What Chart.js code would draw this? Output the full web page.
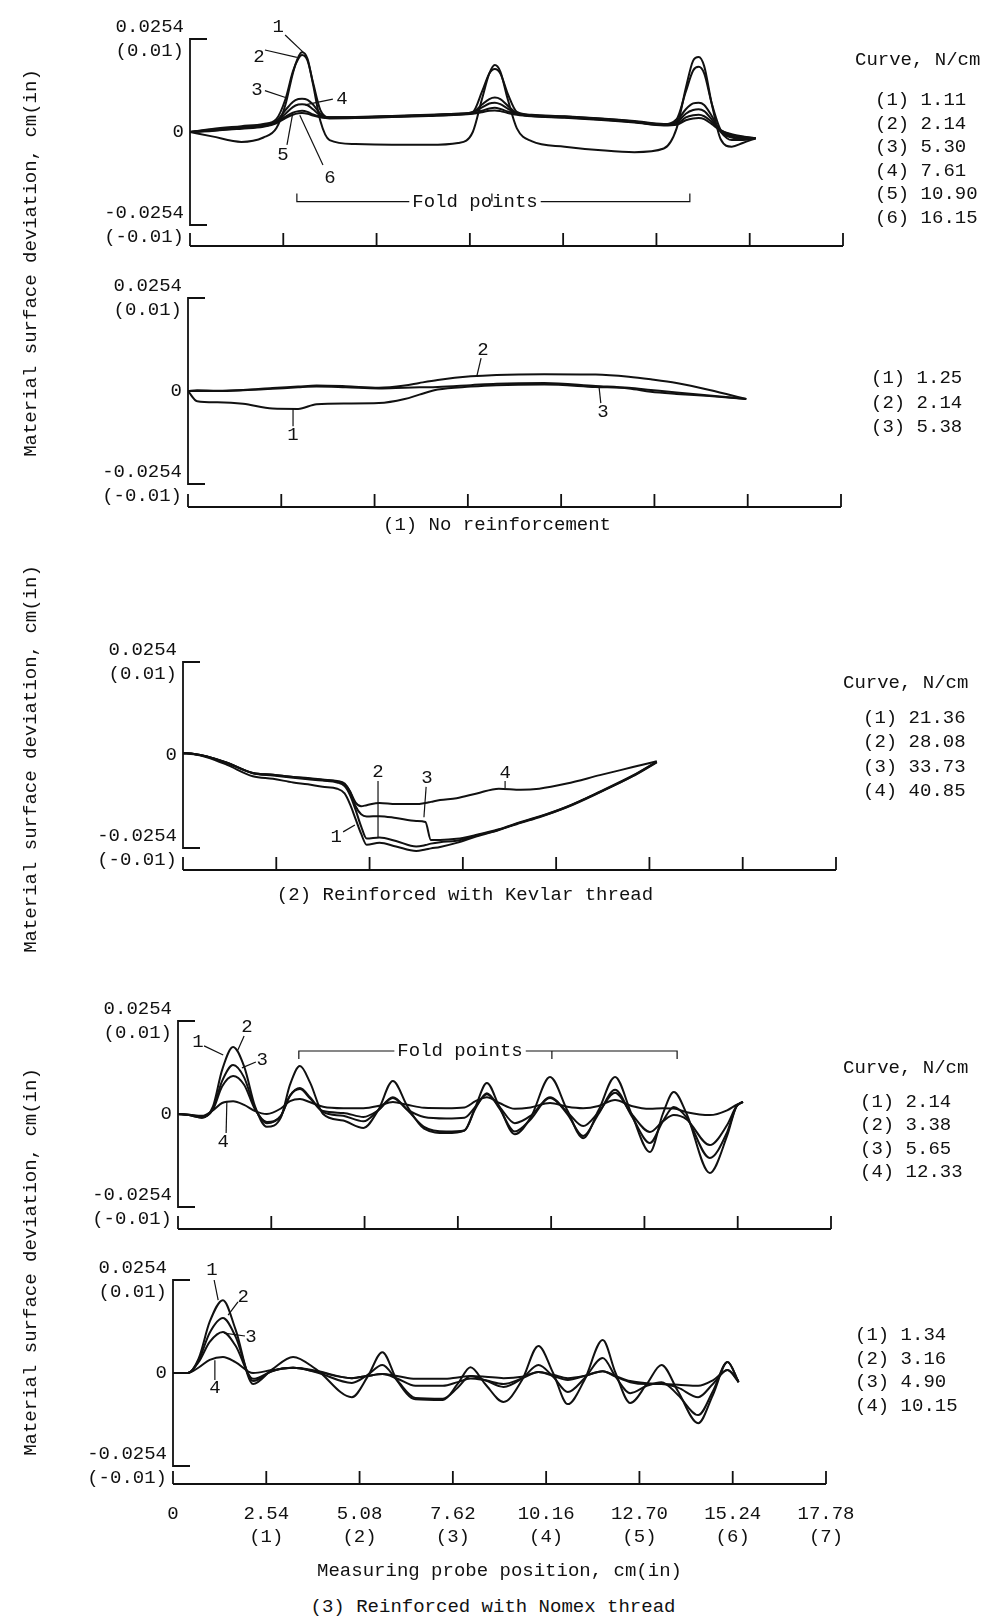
<!DOCTYPE html>
<html>
<head>
<meta charset="utf-8">
<title>Material surface deviation</title>
<script src="https://cdn.jsdelivr.net/npm/chart.js@4.4.1/dist/chart.umd.min.js"></script>
<style>
  html, body { margin: 0; padding: 0; background: #fff; }
  body { position: relative; width: 993px; height: 1619px; overflow: hidden;
         font-family: "Liberation Mono", "DejaVu Sans Mono", monospace; color: #111; }
  canvas { position: absolute; left: 0; }
  .txt { position: absolute; white-space: pre; font-size: 19px; line-height: 1; transform: translateY(-50%); }
  .mid { transform: translate(-50%, -50%); }
  .rot { transform: translate(-50%, -50%) rotate(-90deg); }
</style>
</head>
<body>
<script>
// axes
const xTicks = [0, 2.54, 5.08, 7.62, 10.16, 12.70, 15.24, 17.78];
const xTickInches = ["", "(1)", "(2)", "(3)", "(4)", "(5)", "(6)", "(7)"];
const yTicks = [-0.0254, 0, 0.0254];
const yTickText = [["-0.0254", "(-0.01)"], "0", ["0.0254", "(0.01)"]];

// (1) no reinforcement, upper set
const p1Loads = ["1.11", "2.14", "5.30", "7.61", "10.90", "16.15"];
const p1X = [0, 0.6, 1.4, 2.0, 2.35, 2.6, 2.8, 2.95, 3.05, 3.2, 3.35, 3.55, 3.8, 4.5, 5.5, 6.5, 7.3, 7.7, 7.95, 8.15,
  8.3, 8.45, 8.65, 8.9, 9.3, 10.2, 11.2, 12.1, 12.9, 13.25, 13.5, 13.7, 13.85, 14.0, 14.2, 14.45, 14.75, 15.05, 15.4];
const p1C1 = [0, -0.0012, -0.0027, -0.0015, 0.0010, 0.0075, 0.0160, 0.0205, 0.0218, 0.0200, 0.0130, 0.0030, -0.0022, -0.0033, -0.0035, -0.0035, -0.0030, 0.0000, 0.0090, 0.0160,
  0.0183, 0.0165, 0.0090, 0.0010, -0.0025, -0.0040, -0.0050, -0.0055, -0.0045, 0.0010, 0.0120, 0.0195, 0.0205, 0.0180, 0.0080, -0.0020, -0.0040, -0.0030, -0.0017];
const p1C2 = [0, 0.0008, 0.0016, 0.0022, 0.0035, 0.0090, 0.0165, 0.0200, 0.0210, 0.0195, 0.0135, 0.0060, 0.0040, 0.0040, 0.0043, 0.0046, 0.0050, 0.0055, 0.0110, 0.0160,
  0.0172, 0.0160, 0.0105, 0.0055, 0.0047, 0.0043, 0.0037, 0.0030, 0.0022, 0.0035, 0.0110, 0.0168, 0.0178, 0.0160, 0.0080, 0.0005, -0.0015, -0.0018, -0.0017];
const p1C3 = [0, 0.0006, 0.0013, 0.0020, 0.0030, 0.0060, 0.0082, 0.0090, 0.0091, 0.0088, 0.0075, 0.0050, 0.0040, 0.0041, 0.0044, 0.0047, 0.0050, 0.0054, 0.0075, 0.0090,
  0.0094, 0.0090, 0.0072, 0.0052, 0.0046, 0.0042, 0.0036, 0.0029, 0.0021, 0.0030, 0.0062, 0.0078, 0.0080, 0.0074, 0.0045, 0.0000, -0.0022, -0.0022, -0.0017];
const p1C4 = [0, 0.0005, 0.0012, 0.0018, 0.0028, 0.0050, 0.0068, 0.0075, 0.0076, 0.0073, 0.0062, 0.0045, 0.0039, 0.0040, 0.0043, 0.0046, 0.0049, 0.0053, 0.0067, 0.0078,
  0.0080, 0.0076, 0.0064, 0.0050, 0.0045, 0.0041, 0.0035, 0.0028, 0.0020, 0.0026, 0.0050, 0.0060, 0.0062, 0.0057, 0.0035, 0.0002, -0.0012, -0.0016, -0.0017];
const p1C5 = [0, 0.0004, 0.0010, 0.0016, 0.0026, 0.0042, 0.0053, 0.0057, 0.0058, 0.0055, 0.0048, 0.0041, 0.0038, 0.0039, 0.0042, 0.0045, 0.0048, 0.0051, 0.0058, 0.0064,
  0.0066, 0.0063, 0.0056, 0.0049, 0.0044, 0.0040, 0.0034, 0.0027, 0.0019, 0.0022, 0.0040, 0.0046, 0.0047, 0.0043, 0.0028, 0.0005, -0.0008, -0.0013, -0.0017];
const p1C6 = [0, 0.0003, 0.0009, 0.0014, 0.0024, 0.0038, 0.0047, 0.0051, 0.0052, 0.0050, 0.0045, 0.0040, 0.0037, 0.0038, 0.0041, 0.0044, 0.0047, 0.0050, 0.0054, 0.0058,
  0.0059, 0.0057, 0.0052, 0.0047, 0.0043, 0.0039, 0.0033, 0.0026, 0.0018, 0.0020, 0.0032, 0.0037, 0.0038, 0.0035, 0.0022, 0.0004, -0.0006, -0.0012, -0.0017];

// (1) no reinforcement, lower set
const p2Loads = ["1.25", "2.14", "5.38"];
const p2X = [0, 0.25, 0.8, 1.5, 2.3, 3.0, 3.5, 4.3, 5.2, 5.9, 6.3, 6.8, 7.7, 8.4, 9.7, 11.1, 12.0, 12.6, 13.3, 14.2, 15.2];
const p2C1 = [0, -0.0028, -0.0031, -0.0035, -0.0048, -0.0049, -0.0036, -0.0034, -0.0033, -0.0022, -0.0010, 0.0004, 0.0012, 0.0016, 0.0018, 0.0011, 0.0007, -0.0002, -0.0008, -0.0014, -0.0022];
const p2C2 = [0, 0.0002, 0.0001, 0.0003, 0.0008, 0.0012, 0.0015, 0.0013, 0.0009, 0.0015, 0.0022, 0.0030, 0.0040, 0.0044, 0.0046, 0.0045, 0.0039, 0.0032, 0.0022, 0.0003, -0.0022];
const p2C3 = [0, 0.0000, 0.0000, 0.0002, 0.0006, 0.0010, 0.0012, 0.0010, 0.0007, 0.0009, 0.0010, 0.0011, 0.0016, 0.0020, 0.0022, 0.0014, 0.0009, 0.0003, -0.0004, -0.0012, -0.0022];

// (2) Kevlar thread
const p3Loads = ["21.36", "28.08", "33.73", "40.85"];
const p3X = [0, 0.3, 0.65, 1.2, 1.9, 2.45, 3.0, 3.4, 3.8, 4.2, 4.4, 4.55, 4.7, 4.85, 5.0, 5.35, 5.8, 6.35, 6.6, 6.75,
  7.0, 7.45, 8.0, 8.6, 9.2, 9.7, 10.45, 11.35, 12.25, 12.9];
const p3C1 = [0.0005, 0.0002, -0.0006, -0.0027, -0.0058, -0.0065, -0.0075, -0.0080, -0.0087, -0.0092, -0.0105, -0.0135, -0.0175, -0.0215, -0.0245, -0.0240, -0.0250, -0.0262, -0.0258, -0.0255,
  -0.0251, -0.0240, -0.0222, -0.0205, -0.0185, -0.0170, -0.0143, -0.0102, -0.0058, -0.0020];
const p3C2 = [0.0005, 0.0003, -0.0004, -0.0022, -0.0050, -0.0056, -0.0062, -0.0066, -0.0070, -0.0075, -0.0085, -0.0110, -0.0150, -0.0195, -0.0228, -0.0225, -0.0235, -0.0250, -0.0246, -0.0242,
  -0.0238, -0.0234, -0.0220, -0.0204, -0.0184, -0.0169, -0.0142, -0.0101, -0.0057, -0.0019];
const p3C3 = [0.0005, 0.0003, -0.0004, -0.0021, -0.0049, -0.0054, -0.0060, -0.0064, -0.0068, -0.0072, -0.0080, -0.0100, -0.0140, -0.0162, -0.0168, -0.0167, -0.0172, -0.0180, -0.0183, -0.0232,
  -0.0232, -0.0229, -0.0218, -0.0203, -0.0183, -0.0168, -0.0141, -0.0100, -0.0056, -0.0018];
const p3C4 = [0.0005, 0.0003, -0.0004, -0.0021, -0.0049, -0.0054, -0.0060, -0.0063, -0.0067, -0.0071, -0.0078, -0.0100, -0.0130, -0.0140, -0.0137, -0.0131, -0.0134, -0.0134, -0.0131, -0.0128,
  -0.0123, -0.0118, -0.0105, -0.0092, -0.0095, -0.0092, -0.0078, -0.0055, -0.0033, -0.0017];

// (3) Nomex thread, upper set
const p4Loads = ["2.14", "3.38", "5.65", "12.33"];
const p4X = [0, 0.3, 0.65, 0.95, 1.2, 1.5, 1.8, 2.1, 2.42, 2.8, 3.05, 3.32, 3.6, 3.95, 4.5, 5.05, 5.45, 5.85, 6.25, 6.7,
  7.3, 7.8, 8.1, 8.41, 8.75, 9.17, 9.6, 10.13, 10.6, 11.03, 11.45, 11.9, 12.35, 12.85, 13.2, 13.5, 13.85, 14.48, 14.95, 15.2, 15.38];
const p4C1 = [0, -0.0003, -0.0010, 0.0020, 0.0120, 0.0183, 0.0130, 0.0020, -0.0035, -0.0010, 0.0080, 0.0131, 0.0085, 0.0000, -0.0018, -0.0038, 0.0010, 0.0090, 0.0020, -0.0040,
  -0.0052, -0.0045, 0.0020, 0.0085, 0.0020, -0.0055, -0.0010, 0.0101, 0.0010, -0.0066, 0.0010, 0.0101, 0.0000, -0.0104, 0.0000, 0.0060, 0.0000, -0.0161, -0.0060, 0.0020, 0.0033];
const p4C2 = [0, -0.0003, -0.0010, 0.0015, 0.0090, 0.0134, 0.0100, 0.0015, -0.0025, -0.0005, 0.0050, 0.0071, 0.0045, 0.0005, -0.0005, -0.0020, 0.0010, 0.0046, 0.0010, -0.0035,
  -0.0048, -0.0045, 0.0015, 0.0057, 0.0015, -0.0048, -0.0015, 0.0046, 0.0000, -0.0060, 0.0000, 0.0066, -0.0005, -0.0079, -0.0020, 0.0019, -0.0010, -0.0120, -0.0050, 0.0020, 0.0033];
const p4C3 = [0, -0.0002, -0.0008, 0.0012, 0.0075, 0.0104, 0.0080, 0.0012, -0.0022, -0.0005, 0.0050, 0.0068, 0.0042, 0.0008, 0.0003, -0.0008, 0.0010, 0.0044, 0.0012, -0.0008,
  -0.0012, -0.0010, 0.0020, 0.0054, 0.0020, -0.0025, -0.0005, 0.0044, 0.0005, -0.0033, 0.0005, 0.0058, 0.0000, -0.0049, -0.0020, -0.0003, -0.0015, -0.0085, -0.0030, 0.0020, 0.0033];
const p4C4 = [0, -0.0002, -0.0005, 0.0010, 0.0030, 0.0035, 0.0025, 0.0008, 0.0000, 0.0015, 0.0035, 0.0041, 0.0032, 0.0020, 0.0016, 0.0016, 0.0022, 0.0033, 0.0025, 0.0017,
  0.0016, 0.0018, 0.0035, 0.0046, 0.0030, 0.0014, 0.0018, 0.0030, 0.0020, 0.0016, 0.0022, 0.0038, 0.0022, 0.0014, 0.0016, 0.0015, 0.0005, -0.0003, 0.0010, 0.0025, 0.0033];

// (3) Nomex thread, lower set
const p5Loads = ["1.34", "3.16", "4.90", "10.15"];
const p5X = [0, 0.4, 0.7, 1.0, 1.36, 1.7, 2.18, 2.7, 3.27, 3.9, 4.87, 5.3, 5.7, 6.1, 6.6, 7.35, 7.75, 8.1, 8.5, 9.0,
  9.5, 9.95, 10.35, 10.75, 11.2, 11.7, 12.05, 12.45, 12.9, 13.3, 13.75, 14.3, 14.7, 15.1, 15.4];
const p5C1 = [0, 0.0000, 0.0040, 0.0140, 0.0199, 0.0120, -0.0030, 0.0010, 0.0044, 0.0010, -0.0066, -0.0010, 0.0057, -0.0020, -0.0072, -0.0074, -0.0030, 0.0016, -0.0030, -0.0079,
  -0.0020, 0.0074, 0.0000, -0.0085, -0.0020, 0.0090, 0.0000, -0.0082, -0.0030, 0.0022, -0.0050, -0.0137, -0.0060, 0.0030, -0.0025];
const p5C2 = [0, 0.0000, 0.0035, 0.0110, 0.0150, 0.0100, -0.0022, 0.0005, 0.0014, 0.0002, -0.0027, -0.0005, 0.0022, -0.0020, -0.0068, -0.0070, -0.0040, -0.0008, -0.0020, -0.0038,
  -0.0015, 0.0022, -0.0010, -0.0052, -0.0015, 0.0041, -0.0010, -0.0055, -0.0035, -0.0025, -0.0060, -0.0115, -0.0050, 0.0030, -0.0025];
const p5C3 = [0, 0.0000, 0.0030, 0.0085, 0.0112, 0.0075, -0.0016, 0.0005, 0.0014, 0.0004, -0.0014, -0.0008, -0.0003, -0.0015, -0.0035, -0.0035, -0.0025, -0.0015, -0.0020, -0.0030,
  -0.0015, 0.0003, -0.0008, -0.0019, -0.0008, 0.0005, -0.0010, -0.0025, -0.0030, -0.0030, -0.0040, -0.0066, -0.0030, 0.0008, -0.0025];
const p5C4 = [0, 0.0000, 0.0015, 0.0036, 0.0044, 0.0030, 0.0000, 0.0008, 0.0014, 0.0006, -0.0014, -0.0008, -0.0003, -0.0008, -0.0016, -0.0016, -0.0012, -0.0008, -0.0010, -0.0014,
  -0.0010, 0.0003, -0.0005, -0.0014, -0.0008, 0.0005, -0.0008, -0.0022, -0.0028, -0.0030, -0.0032, -0.0035, -0.0020, 0.0008, -0.0022];

// curve labels: [text, textX, textY, leaderX1, leaderY1, leaderX2, leaderY2] in axis units
const p1Notes = [["1", 2.40, 0.0287, 2.59, 0.0265, 3.08, 0.0218], ["2", 1.88, 0.0205, 2.04, 0.0224, 2.91, 0.0204],
  ["3", 1.82, 0.0115, 2.04, 0.0113, 2.64, 0.0093], ["4", 4.14, 0.0090, 3.89, 0.0090, 3.13, 0.0074],
  ["5", 2.53, -0.0063, 2.64, -0.0035, 2.80, 0.0052], ["6", 3.81, -0.0126, 3.62, -0.0090, 2.99, 0.0046]];
const p2Notes = [["1", 2.86, -0.0120, 2.86, -0.0096, 2.86, -0.0048], ["2", 8.03, 0.0112, 7.98, 0.0090, 7.87, 0.0043],
  ["3", 11.30, -0.0057, 11.24, -0.0033, 11.19, 0.0013]];
const p3Notes = [["1", 4.17, -0.0224, 4.36, -0.0210, 4.68, -0.0191], ["2", 5.31, -0.0046, 5.31, -0.0071, 5.31, -0.0224],
  ["3", 6.64, -0.0063, 6.62, -0.0087, 6.56, -0.0170], ["4", 8.77, -0.0049, 8.77, -0.0071, 8.77, -0.0090]];
const p4Notes = [["1", 0.54, 0.0197, 0.71, 0.0186, 1.23, 0.0161], ["2", 1.88, 0.0238, 1.80, 0.0213, 1.63, 0.0175],
  ["3", 2.29, 0.0147, 2.12, 0.0142, 1.74, 0.0126], ["4", 1.23, -0.0076, 1.31, -0.0052, 1.33, 0.0033]];
const p5Notes = [["1", 1.06, 0.0281, 1.12, 0.0254, 1.23, 0.0199], ["2", 1.91, 0.0207, 1.77, 0.0194, 1.50, 0.0158],
  ["3", 2.12, 0.0098, 1.96, 0.0101, 1.39, 0.0109], ["4", 1.14, -0.0041, 1.14, -0.0019, 1.14, 0.0035]];

const FONT = '"Liberation Mono", "DejaVu Sans Mono", monospace';
const INK = '#111';
const PX_UNIT = 93 / 0.0254;
const Y_TOP = 0.033;
const Y_AXIS_W = 100;
const X_AXIS_H = 98;

Chart.defaults.font.family = FONT;
Chart.defaults.font.size = 19;
Chart.defaults.color = INK;

function addText(str, x, y, cls) {
  const d = document.createElement('div');
  d.className = 'txt' + (cls ? ' ' + cls : '');
  d.textContent = str;
  d.style.left = x + 'px';
  d.style.top = y + 'px';
  document.body.appendChild(d);
}

// bracket axes, curve numbers and the "Fold points" marker
const sketchPlugin = {
  id: 'sketch',
  afterDraw(chart, args, opts) {
    const ctx = chart.ctx;
    const sx = chart.scales.x, sy = chart.scales.y;
    const px = v => sx.getPixelForValue(v);
    const py = v => sy.getPixelForValue(v);
    const left = px(0), base = chart.chartArea.bottom;
    ctx.save();
    ctx.strokeStyle = INK;
    ctx.fillStyle = INK;
    ctx.lineWidth = 1.8;
    ctx.beginPath();
    ctx.moveTo(left + 17, py(0.0254));
    ctx.lineTo(left, py(0.0254));
    ctx.lineTo(left, py(-0.0254));
    ctx.lineTo(left + 17, py(-0.0254));
    ctx.stroke();
    ctx.beginPath();
    ctx.moveTo(left, base);
    ctx.lineTo(px(17.78), base);
    xTicks.forEach(v => { ctx.moveTo(px(v), base); ctx.lineTo(px(v), base - 13); });
    ctx.stroke();

    ctx.font = '19px ' + FONT;
    ctx.textAlign = 'center';
    ctx.textBaseline = 'middle';
    ctx.lineWidth = 1.2;
    (opts.notes || []).forEach(n => {
      ctx.beginPath();
      ctx.moveTo(px(n[3]), py(n[4]));
      ctx.lineTo(px(n[5]), py(n[6]));
      ctx.stroke();
      ctx.fillText(n[0], px(n[1]), py(n[2]));
    });

    const f = opts.fold;
    if (f) {
      const y = py(f.y), a = px(f.from), b = px(f.to), t = 8 * f.dir;
      ctx.beginPath();
      ctx.moveTo(a, y - t); ctx.lineTo(a, y); ctx.lineTo(b, y); ctx.lineTo(b, y - t);
      ctx.stroke();
      const w = ctx.measureText(f.text).width;
      ctx.fillStyle = '#fff';
      ctx.fillRect(px(f.textX) - w / 2 - 3, y - 9, w + 6, 18);
      ctx.fillStyle = INK;
      ctx.fillText(f.text, px(f.textX), y);
      ctx.beginPath();
      f.mids.forEach(m => { ctx.moveTo(px(m), y); ctx.lineTo(px(m), y - t); });
      ctx.stroke();
    }
    ctx.restore();
  }
};

function makePanel(geo, xs, series, notes, fold, showX) {
  const chartTop = geo.y0 - Y_TOP * PX_UNIT;
  const canvasTop = Math.floor(chartTop - 30);
  const areaBottom = geo.axisY - canvasTop;
  const xAxisH = showX ? X_AXIS_H : 0;
  const height = Math.ceil(areaBottom + xAxisH + (showX ? 12 : 30));
  const cv = document.createElement('canvas');
  cv.width = 993;
  cv.height = height;
  cv.style.top = canvasTop + 'px';
  document.body.appendChild(cv);

  new Chart(cv, {
    type: 'line',
    data: {
      datasets: series.map(ys => ({
        data: xs.map((x, i) => ({ x: x, y: ys[i] })),
        borderColor: INK,
        borderWidth: 2,
        pointRadius: 0,
        fill: false,
        cubicInterpolationMode: 'monotone'
      }))
    },
    options: {
      responsive: false,
      animation: false,
      events: [],
      layout: {
        padding: {
          left: geo.x0 - Y_AXIS_W,
          right: 993 - geo.x0 - 653,
          top: chartTop - canvasTop,
          bottom: height - areaBottom - xAxisH
        }
      },
      scales: {
        x: {
          type: 'linear', min: 0, max: 17.78, display: showX,
          afterBuildTicks: s => { s.ticks = xTicks.map(v => ({ value: v })); },
          afterFit: s => { s.height = xAxisH; s.paddingLeft = 0; s.paddingRight = 0; },
          grid: { display: false, drawTicks: false },
          border: { display: false },
          ticks: {
            autoSkip: false, maxRotation: 0, padding: 19,
            callback: (v, i) => i === 0 ? '0' : [xTicks[i].toFixed(2), xTickInches[i]]
          },
          title: { display: true, text: 'Measuring probe position, cm(in)', padding: 0 }
        },
        y: {
          min: -(geo.axisY - geo.y0) / PX_UNIT, max: Y_TOP,
          afterBuildTicks: s => { s.ticks = yTicks.map(v => ({ value: v })); },
          afterFit: s => { s.width = Y_AXIS_W; s.paddingTop = 0; s.paddingBottom = 0; },
          grid: { display: false, drawTicks: false },
          border: { display: false },
          ticks: { autoSkip: false, padding: 6, font: { size: 19, lineHeight: 1.3 }, callback: (v, i) => yTickText[i] }
        }
      },
      plugins: {
        legend: { display: false },
        tooltip: { enabled: false },
        sketch: { notes: notes, fold: fold }
      }
    },
    plugins: [sketchPlugin]
  });
}

makePanel({ x0: 190, y0: 132, axisY: 246 }, p1X, [p1C1, p1C2, p1C3, p1C4, p1C5, p1C6], p1Notes,
  { from: 2.91, to: 13.61, y: -0.0190, textX: 7.76, text: 'Fold points', dir: 1, mids: [8.22] }, false);
makePanel({ x0: 188, y0: 391, axisY: 507 }, p2X, [p2C1, p2C2, p2C3], p2Notes, null, false);
makePanel({ x0: 183, y0: 755, axisY: 870 }, p3X, [p3C1, p3C2, p3C3, p3C4], p3Notes, null, false);
makePanel({ x0: 178, y0: 1114, axisY: 1229 }, p4X, [p4C1, p4C2, p4C3, p4C4], p4Notes,
  { from: 3.29, to: 13.59, y: 0.0172, textX: 7.68, text: 'Fold points', dir: -1, mids: [10.18] }, false);
makePanel({ x0: 173, y0: 1373, axisY: 1484 }, p5X, [p5C1, p5C2, p5C3, p5C4], p5Notes, null, true);

// legends
addText('Curve, N/cm', 855, 60);
p1Loads.forEach((v, i) => addText('(' + (i + 1) + ') ' + v, 875, 100 + i * 23.5));
p2Loads.forEach((v, i) => addText('(' + (i + 1) + ') ' + v, 871, 378 + i * 24.5));
addText('Curve, N/cm', 843, 683);
p3Loads.forEach((v, i) => addText('(' + (i + 1) + ') ' + v, 863, 718 + i * 24.3));
addText('Curve, N/cm', 843, 1068);
p4Loads.forEach((v, i) => addText('(' + (i + 1) + ') ' + v, 860, 1102 + i * 23.4));
p5Loads.forEach((v, i) => addText('(' + (i + 1) + ') ' + v, 855, 1335 + i * 23.7));

// titles
addText('Material surface deviation, cm(in)', 31, 263, 'rot');
addText('Material surface deviation, cm(in)', 31, 759, 'rot');
addText('Material surface deviation, cm(in)', 31, 1262, 'rot');
addText('(1) No reinforcement', 497, 525, 'mid');
addText('(2) Reinforced with Kevlar thread', 465, 895, 'mid');
addText('(3) Reinforced with Nomex thread', 493, 1607, 'mid');
</script>
</body>
</html>
